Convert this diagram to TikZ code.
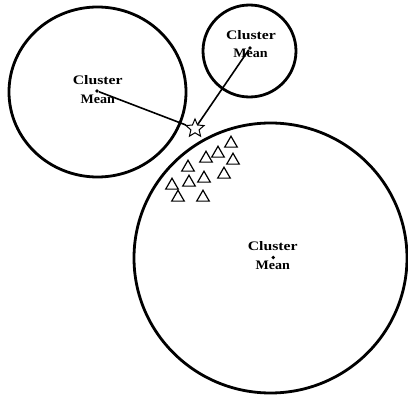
\documentclass[tikz,border=0pt]{standalone}
\usepackage{fontspec}
\setmainfont{Liberation Serif}
\usetikzlibrary{shapes.geometric}
\begin{document}
\begin{tikzpicture}[x=1pt,y=-1pt,
  clus/.style={line width=2.8pt},
  link/.style={line width=1.6pt},
  meandot/.style={circle,fill,inner sep=0pt,minimum size=3.8pt},
  tri/.style={draw,regular polygon,regular polygon sides=3,inner sep=0pt,minimum size=14.5pt,line width=1.2pt,fill=white},
  lbl/.style={font=\bfseries\fontsize{13}{13}\selectfont,inner sep=0pt,anchor=base},
  startmark/.style={draw,star,star points=5,star point ratio=2.2,minimum size=19pt,inner sep=0pt,line width=1pt}
]
\useasboundingbox[fill=white] (0,0) rectangle (408,396);

% clusters
\draw[clus] (97.5,92) ellipse [x radius=88.5pt, y radius=85pt];
\draw[clus] (249.5,51) ellipse [x radius=46.5pt, y radius=46pt];
\draw[clus] (270.5,258) ellipse [x radius=136.5pt, y radius=135pt];

% labels
\node[lbl] (t1a) at (97.7,85) {\scalebox{1.21}[1]{Cluster}};
\node[lbl] (t1b) at (97.8,104) {\scalebox{1.08}[1]{Mean}};
\node[lbl] (t2a) at (251,39.5) {\scalebox{1.21}[1]{Cluster}};
\node[lbl] (t2b) at (250.5,58) {\scalebox{1.08}[1]{Mean}};
\node[lbl] (t3a) at (272.7,250.5) {\scalebox{1.21}[1]{Cluster}};
\node[lbl] (t3b) at (272.8,270) {\scalebox{1.08}[1]{Mean}};

% means
\node[meandot] (m1) at (97,91) {};
\node[meandot] (m2) at (250,48) {};
\node[meandot] (m3) at (273.3,257.5) {};

% new point
\node[startmark] (st) at (195,128.5) {};

\draw[link] (m1) -- (st);
\draw[link] (m2) -- (st);

% points of big cluster
\foreach \px/\py [count=\i] in {231/142,218/152,233/159,206/157,188/166,224/173,204/177,189/181,172/184,178/196,203/196}
  \node[tri] (p\i) at (\px,\py+1.5) {};
\end{tikzpicture}
\end{document}
